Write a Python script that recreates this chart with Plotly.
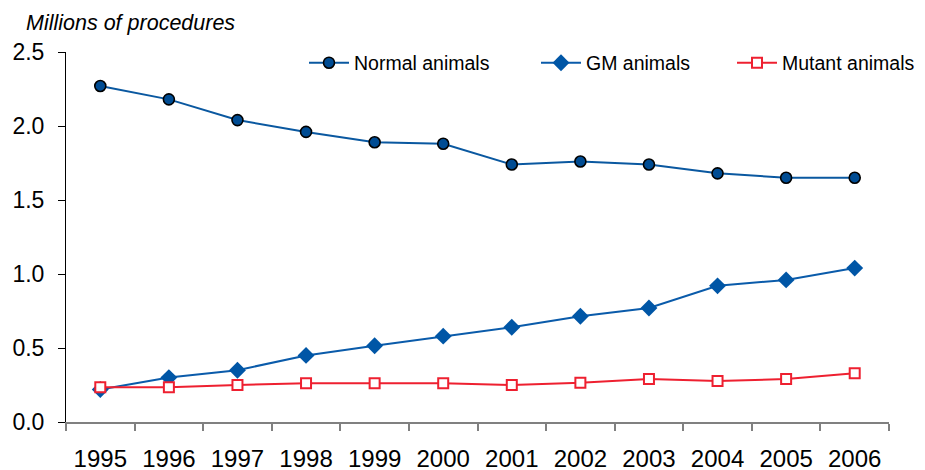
import plotly.graph_objects as go

years = ["1995", "1996", "1997", "1998", "1999", "2000", "2001", "2002", "2003", "2004", "2005", "2006"]
normal = [2.27, 2.18, 2.04, 1.96, 1.89, 1.88, 1.74, 1.76, 1.74, 1.68, 1.65, 1.65]
gm = [0.22, 0.30, 0.35, 0.45, 0.515, 0.58, 0.64, 0.715, 0.77, 0.92, 0.96, 1.04]
mutant = [0.235, 0.234, 0.25, 0.262, 0.262, 0.262, 0.25, 0.265, 0.29, 0.277, 0.29, 0.33]
y_ticks = [0.0, 0.5, 1.0, 1.5, 2.0, 2.5]
y_ticktext = ["0.0", "0.5", "1.0", "1.5", "2.0", "2.5"]

FONT = "Liberation Sans, Arial, sans-serif"
PW = 823.0

def px_x(p):
    return (p - 66) / PW

fig = go.Figure()
fig.add_trace(go.Scatter(
    x=years, y=normal, name="Normal animals", mode="lines+markers", legend="legend",
    line=dict(color="#0A58A0", width=2),
    marker=dict(symbol="circle", size=11, color="#004C93", line=dict(color="#000000", width=1.6)),
))
fig.add_trace(go.Scatter(
    x=years, y=gm, name="GM animals", mode="lines+markers", legend="legend2",
    line=dict(color="#0A5BAA", width=2),
    marker=dict(symbol="diamond", size=13, color="#0056A6", line=dict(width=0)),
))
fig.add_trace(go.Scatter(
    x=years, y=mutant, name="Mutant animals", mode="lines+markers", legend="legend3",
    line=dict(color="#EE2030", width=2),
    marker=dict(symbol="square", size=10, color="#FFFFFF", line=dict(color="#EE2030", width=2)),
))

leg_y = (422 - 63) / 370.0
def leg(xpx):
    return dict(
        orientation="h", x=px_x(xpx), xanchor="left", y=leg_y, yanchor="middle",
        font=dict(size=19.5, family=FONT), bgcolor="rgba(0,0,0,0)", itemwidth=40,
    )

fig.update_layout(
    width=925, height=470,
    margin=dict(l=58, r=44, t=44, b=56, autoexpand=False),
    paper_bgcolor="white", plot_bgcolor="white",
    font=dict(family=FONT, color="#000000"),
    showlegend=True,
    legend=leg(304),
    legend2=leg(536),
    legend3=leg(732),
    xaxis=dict(
        type="category", tickson="boundaries", ticks="outside", ticklen=7,
        tickcolor="#808080", tickwidth=1.5,
        showline=True, linecolor="#808080", linewidth=1.5,
        showgrid=False, zeroline=False, automargin=False,
        tickfont=dict(size=24, family=FONT),
        ticklabelstandoff=14,
        range=[-0.5, 11.5],
    ),
    yaxis=dict(
        range=[0, 2.5], tickvals=y_ticks, ticktext=y_ticktext,
        ticks="outside", ticklen=7, tickcolor="#000000", tickwidth=1,
        showline=True, linecolor="#000000", linewidth=1,
        showgrid=False, zeroline=False, automargin=False,
        tickfont=dict(size=23, family=FONT),
        ticklabelstandoff=9,
    ),
    annotations=[dict(
        text="<i>Millions of procedures</i>", xref="paper", yref="paper",
        x=px_x(24), y=(422 - 37) / 370.0, xanchor="left", yanchor="bottom", showarrow=False,
        font=dict(size=21.5, family=FONT),
    )],
)

fig.write_html("out.html")
